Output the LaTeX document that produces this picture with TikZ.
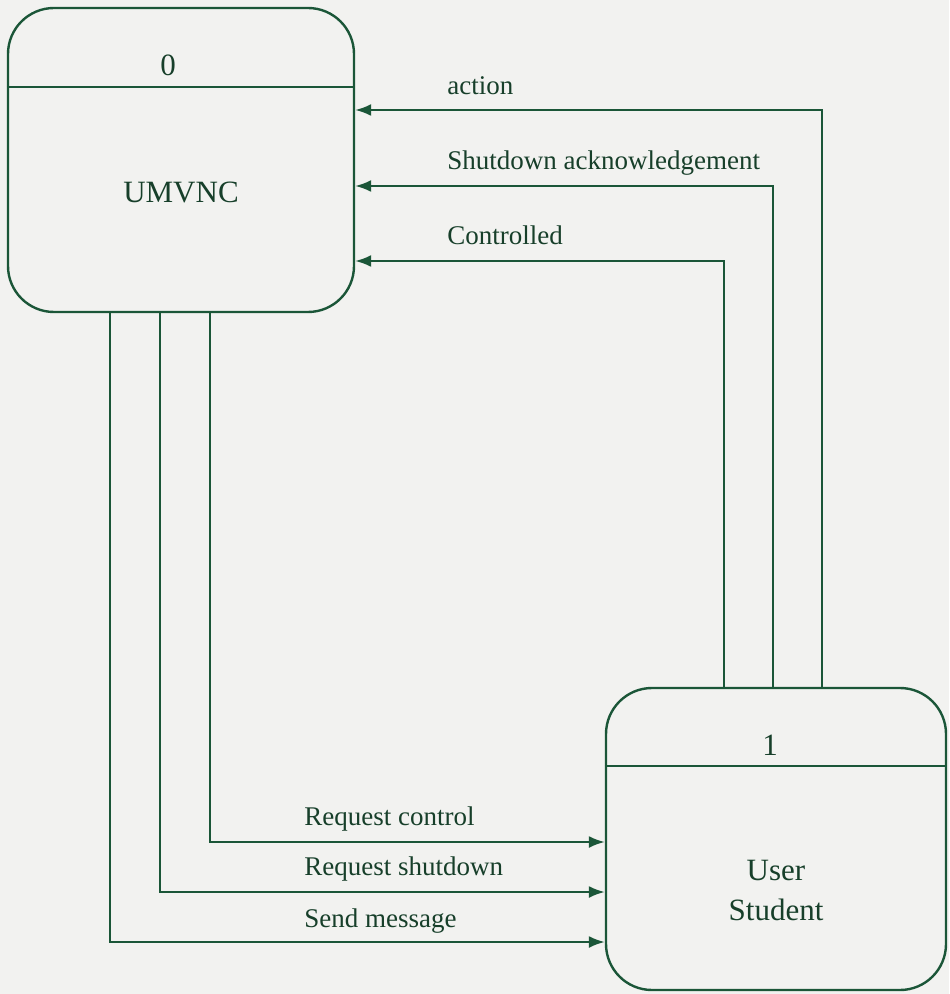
\documentclass[tikz,border=0pt]{standalone}
\usepackage{fontspec}
\setmainfont{Liberation Serif}
\usepackage{tikz}
\usetikzlibrary{arrows.meta, calc, positioning}

\definecolor{dfdline}{HTML}{1B5638}
\definecolor{dfdtext}{HTML}{173F2A}
\definecolor{paper}{HTML}{F2F2F0}

\begin{document}
\begin{tikzpicture}[x=0.5pt, y=-0.5pt,
    proc/.style={draw=dfdline, line width=1.2pt, rounded corners=23pt, inner sep=0pt},
    divider/.style={draw=dfdline, line width=1.2pt},
    flow/.style={draw=dfdline, line width=1.1pt, -{Latex[length=8pt,width=6pt]}},
    lab/.style={text=dfdtext, font=\fontsize{13.5}{15}\selectfont, anchor=base west, inner sep=0pt},
    boxtxt/.style={text=dfdtext, font=\fontsize{15.5}{19}\selectfont, anchor=base, inner sep=0pt}]
    % Paper
    \fill[paper] (0,0) rectangle (949,994);
    \useasboundingbox (0,0) rectangle (949,994);

    % Process 0
    \node[proc, minimum width=173pt, minimum height=152pt] (umvnc) at (181,160) {};
    \draw[divider] (umvnc.west |- 0,87) -- (umvnc.east |- 0,87);
    \node[boxtxt] (umvncnum) at (168,76) {0};
    \node[boxtxt] (umvncname) at (181,203) {UMVNC};

    % Process 1
    \node[proc, minimum width=170pt, minimum height=151pt] (student) at (776,839) {};
    \draw[divider] (student.west |- 0,766) -- (student.east |- 0,766);
    \node[boxtxt] (studentnum) at (770,755) {1};
    \node[boxtxt] (studentname) at (776,880) {User};
    \node[boxtxt] (studentname2) at (776,920) {Student};

    % Flows from the student back to UMVNC
    \draw[flow] (student.north -| 822,0) |- (umvnc.east |- 0,110);
    \draw[flow] (student.north -| 773,0) |- (umvnc.east |- 0,186);
    \draw[flow] (student.north -| 724,0) |- (umvnc.east |- 0,261);
    \node[lab] (lbaction) at (447,95) {action};
    \node[lab] (lbshut) at (447,170) {Shutdown acknowledgement};
    \node[lab] (lbctrl) at (447,245) {Controlled};

    % Flows from UMVNC to the student
    \draw[flow] (umvnc.south -| 210,0) |- (student.west |- 0,842);
    \draw[flow] (umvnc.south -| 160,0) |- (student.west |- 0,892);
    \draw[flow] (umvnc.south -| 110,0) |- (student.west |- 0,942);
    \node[lab] (lbreqc) at (304,825) {Request control};
    \node[lab] (lbreqs) at (304,875) {Request shutdown};
    \node[lab] (lbsend) at (304,927) {Send message};
\end{tikzpicture}
\end{document}
